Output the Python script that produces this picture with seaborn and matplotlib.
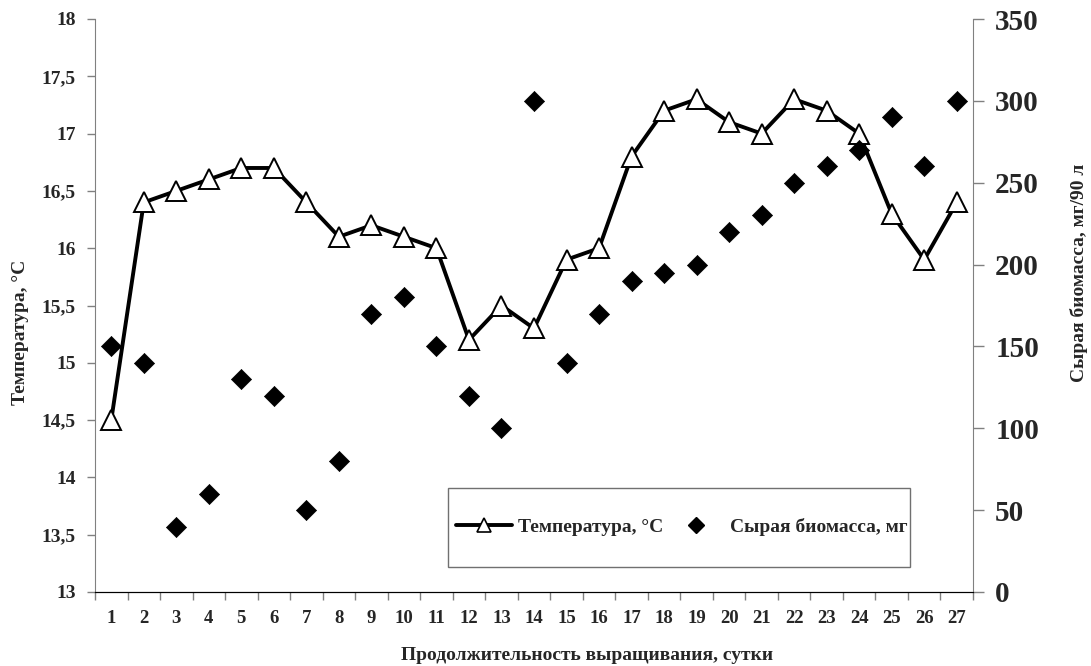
import matplotlib
matplotlib.use("Agg")
import matplotlib.pyplot as plt
from matplotlib.ticker import FixedLocator, FuncFormatter
from matplotlib.patches import Rectangle
from matplotlib.lines import Line2D
import seaborn as sns
import numpy as np

# Days of cultivation
days = list(range(1, 28))

# Water temperature, °C
temperature = [14.5, 16.4, 16.5, 16.6, 16.7, 16.7, 16.4, 16.1, 16.2, 16.1,
               16.0, 15.2, 15.5, 15.3, 15.9, 16.0, 16.8, 17.2, 17.3, 17.1,
               17.0, 17.3, 17.2, 17.0, 16.3, 15.9, 16.4]

# Wet biomass, mg per 90 l
biomass = [150, 140, 40, 60, 130, 120, 50, 80, 170, 180,
           150, 120, 100, 300, 140, 170, 190, 195, 200, 220,
           230, 250, 260, 270, 290, 260, 300]

temp_ticks = [13, 13.5, 14, 14.5, 15, 15.5, 16, 16.5, 17, 17.5, 18]
bio_ticks = [0, 50, 100, 150, 200, 250, 300, 350]

sns.set_style("white")
plt.rcParams["font.family"] = ["Liberation Serif", "DejaVu Serif"]
plt.rcParams["font.weight"] = "bold"

W, H = 1091, 666
fig = plt.figure(figsize=(W / 100, H / 100), dpi=100)
ax = fig.add_axes([95 / W, 1 - 592 / H, (973 - 95) / W, (592 - 19) / H])
ax2 = ax.twinx()

sns.lineplot(x=days, y=temperature, ax=ax, color="black", linewidth=2.8,
             marker="^", markersize=15, markerfacecolor="white",
             markeredgecolor="black", markeredgewidth=1.4, zorder=3)
sns.scatterplot(x=days, y=biomass, ax=ax2, marker="D", s=105,
                color="black", edgecolor="black", linewidth=0.5, zorder=2)

# Left axis: temperature
ax.set_xlim(0.5, 27.5)
ax.set_ylim(13, 18)
ax.set_yticks(temp_ticks)
ax.yaxis.set_major_formatter(FuncFormatter(
    lambda v, p: (f"{v:g}").replace(".", ",")))
ax.tick_params(axis="y", direction="out", length=6, width=1, color="#808080",
               labelsize=14, pad=8, left=True)
ax.set_ylabel("Температура, °C", fontsize=14, fontweight="bold")
ax.yaxis.set_label_coords(-74 / 878, (592 - 332) / 573)
ax.yaxis.label.set_verticalalignment("center")

# Category-style x axis with ticks between days
ax.xaxis.set_major_locator(FixedLocator(days))
ax.xaxis.set_minor_locator(FixedLocator(np.arange(0.5, 28, 1)))
ax.tick_params(axis="x", which="major", length=0, labelsize=13.5, pad=13)
ax.tick_params(axis="x", which="minor", direction="out", length=6,
               width=1, color="#808080", bottom=True)
ax.set_xlabel("Продолжительность выращивания, сутки", fontsize=14,
              fontweight="bold")
ax.xaxis.set_label_coords((587 - 95) / 878, -(655 - 592) / 573)
ax.xaxis.label.set_verticalalignment("center")

# Right axis: biomass
ax2.set_ylim(0, 350)
ax2.set_yticks(bio_ticks)
ax2.tick_params(axis="y", direction="out", length=8, width=1,
                color="#808080", labelsize=21, pad=8, right=True)
ax2.set_ylabel("Сырая биомасса, мг/90 л", fontsize=14, fontweight="bold")
ax2.yaxis.set_label_coords((1079 - 95) / 878, (592 - 273) / 573)
ax2.yaxis.label.set_verticalalignment("center")

for a in (ax, ax2):
    a.spines["top"].set_visible(False)
    a.spines["left"].set_color("#808080")
    a.spines["right"].set_color("#808080")
    a.spines["bottom"].set_color("black")
    a.grid(False)
    for lbl in a.get_xticklabels() + a.get_yticklabels():
        lbl.set_fontweight("bold")
ax2.spines["left"].set_visible(False)
ax.spines["right"].set_visible(False)

# Legend panel
fig.patches.append(Rectangle((448 / W, 1 - 567 / H), (910 - 448) / W,
                             (567 - 488) / H, transform=fig.transFigure,
                             facecolor="white", edgecolor="#707070",
                             linewidth=1, zorder=5))
handles = [
    Line2D([], [], color="black", linewidth=2.8, marker="^", markersize=10,
           markerfacecolor="white", markeredgecolor="black",
           markeredgewidth=1.2),
    Line2D([], [], linestyle="none", color="black", marker="D", markersize=8),
]
leg = fig.legend(handles, ["Температура, °C", "Сырая биомасса, мг"],
                 loc="center left", bbox_to_anchor=(438 / W, 1 - 527 / H),
                 ncol=2, frameon=False, handlelength=2.9, handletextpad=0.3,
                 columnspacing=0.25, prop={"size": 14, "weight": "bold"})
leg.set_zorder(6)

fig.savefig("out.png", dpi=100, facecolor="white")
